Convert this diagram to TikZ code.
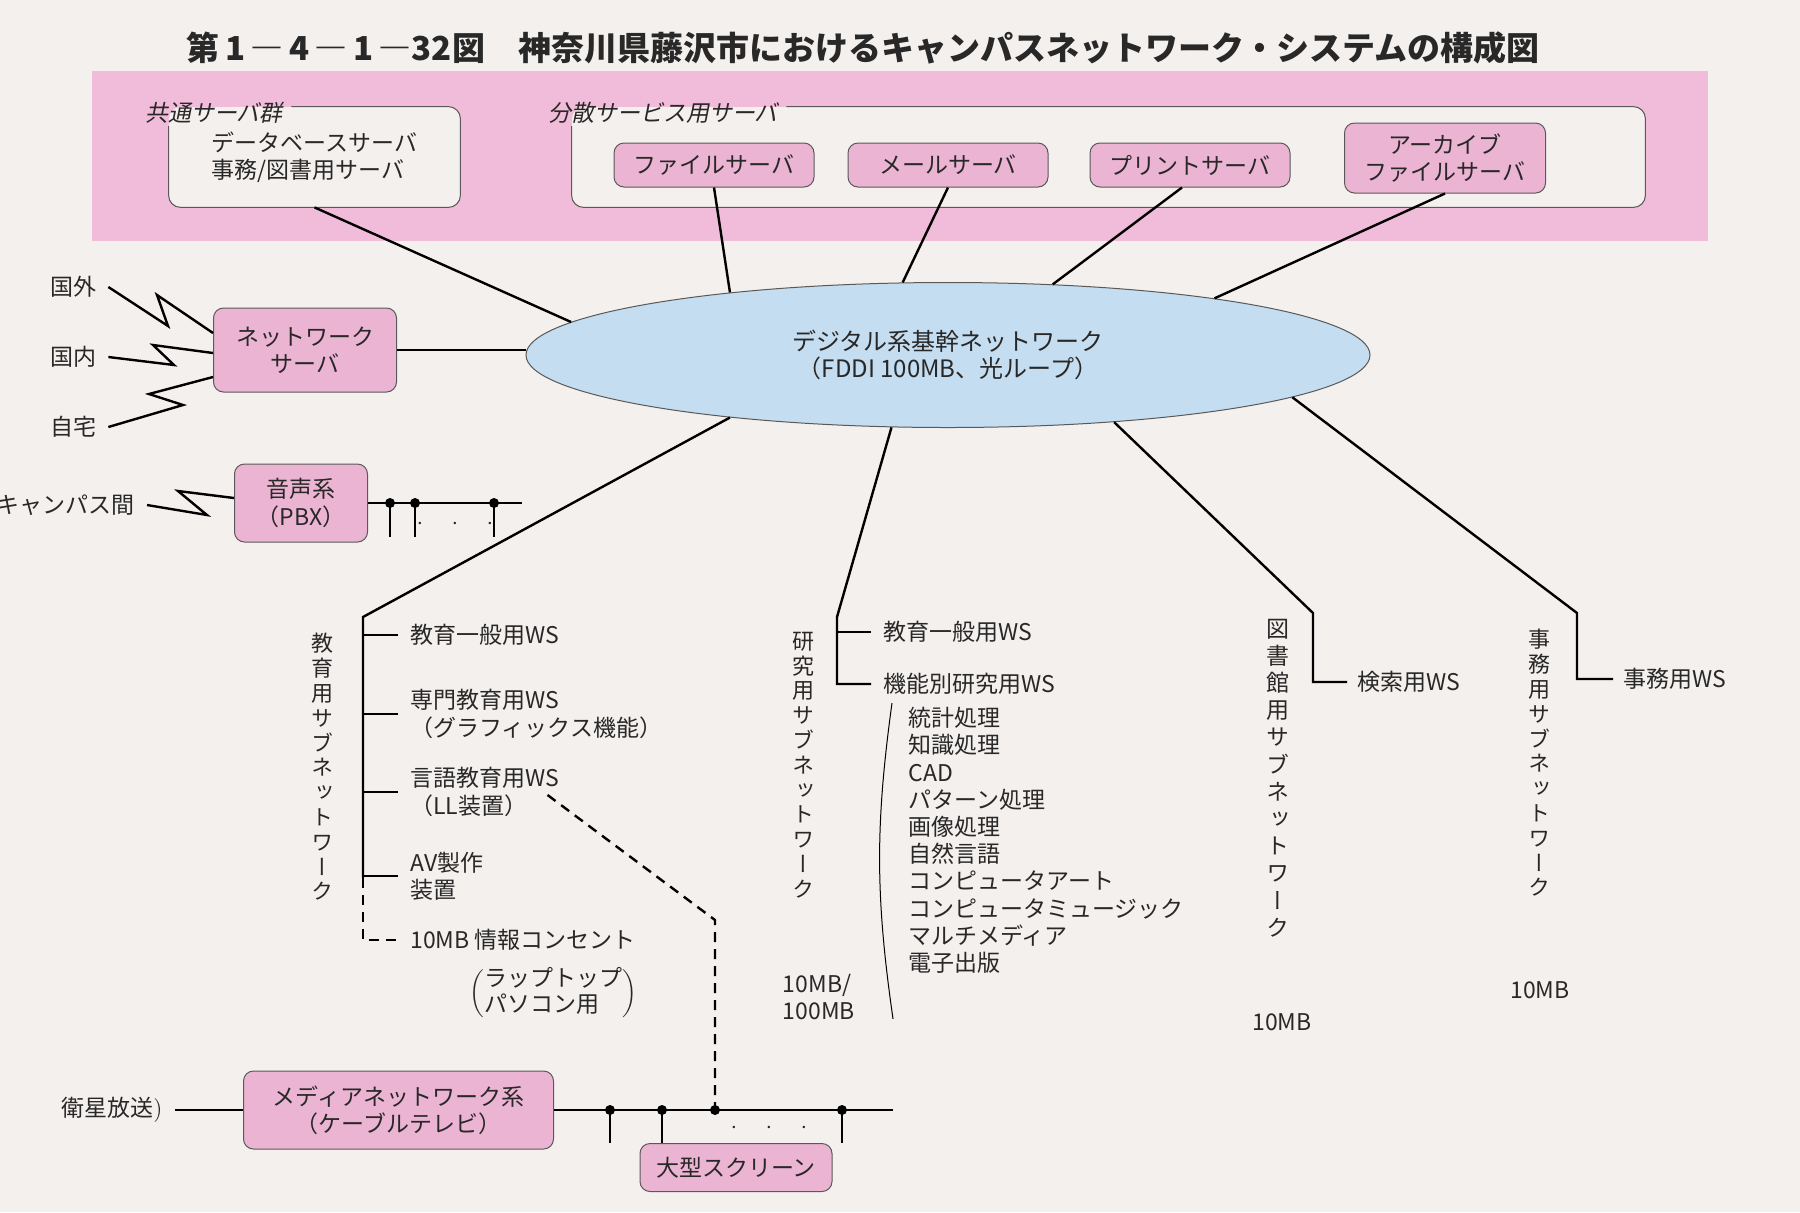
\documentclass[tikz,border=0pt]{standalone}
\usepackage{fontspec}
\setmainfont{Noto Sans CJK JP}
\newfontfamily\slfont[FakeSlant=0.2]{Noto Sans CJK JP}
\newfontfamily\vfont[RawFeature={+vert}]{Noto Sans CJK JP}
\usepackage{tikz}
\usetikzlibrary{positioning,calc,shapes.geometric}
\definecolor{paper}{RGB}{244,240,238}
\definecolor{bandpink}{RGB}{241,188,217}
\definecolor{boxpink}{RGB}{236,180,211}
\definecolor{ringblue}{RGB}{196,221,240}
\definecolor{ink}{RGB}{40,40,40}

\begin{document}
\begin{tikzpicture}[x=0.5pt,y=-0.5pt,
    every node/.style={font=\fontsize{11.5}{13.6}\selectfont,inner sep=0pt,text=ink},
    srv/.style={draw=black!65,fill=boxpink,rounded corners=5pt,align=center,line width=0.5pt},
    grp/.style={fill=paper,rounded corners=6pt},
    grpline/.style={draw=black!65,line width=0.5pt,rounded corners=6pt},
    grplab/.style={font=\slfont\fontsize{11.5}{13.6}\selectfont},
    lbl/.style={inner xsep=6pt},
    txt/.style={anchor=west,align=left},
    vlab/.style={font=\vfont\fontsize{11}{12.4}\selectfont,align=center},
    link/.style={line width=1.2pt,draw=black},
    dashlink/.style={line width=1.2pt,dash pattern=on 5pt off 3.5pt},
    dot/.style={circle,fill=black,minimum size=5pt}]
    \useasboundingbox (0,0) rectangle (1800,1212);
    \fill[paper] (0,0) rectangle (1800,1212);

    \node[font=\bfseries\fontsize{16.5}{20}\selectfont] (title) at (863,48)
      {第\,1\,―\,4\,―\,1\,―32図　神奈川県藤沢市におけるキャンパスネットワーク・システムの構成図};

    \fill[bandpink] (92,71) rectangle (1708,241);

    \node[grp,minimum width=145.5pt,minimum height=50pt,align=left] (common) at (314.5,157)
      {データベースサーバ\\事務/図書用サーバ};
    \node[grplab] (commonlab) at (214,113) {共通サーバ群};
    \draw[grpline] ([xshift=4pt]commonlab.east |- common.north) -- (common.north east)
      -- (common.south east) -- (common.south west) -- ([yshift=-1pt]commonlab.south -| common.west);

    \node[grp,minimum width=536.5pt,minimum height=50pt] (distrib) at (1108.5,157) {};
    \node[grplab] (distlab) at (663,113) {分散サービス用サーバ};
    \draw[grpline] ([xshift=4pt]distlab.east |- distrib.north) -- (distrib.north east)
      -- (distrib.south east) -- (distrib.south west) -- ([yshift=-1pt]distlab.south -| distrib.west);

    \node[srv,minimum width=100pt,minimum height=22pt] (file) at (714,165) {ファイルサーバ};
    \node[srv,minimum width=100pt,minimum height=22pt] (mail) at (948,165) {メールサーバ};
    \node[srv,minimum width=100pt,minimum height=22pt] (print) at (1190,165) {プリントサーバ};
    \node[srv,minimum width=100.5pt,minimum height=35pt] (archive) at (1445,158) {アーカイブ\\ファイルサーバ};

    \node[ellipse,draw=black!65,fill=ringblue,line width=0.5pt,minimum width=422pt,minimum height=72.5pt,
      align=center,font=\fontsize{12}{13.6}\selectfont] (backbone) at (948,355)
      {デジタル系基幹ネットワーク\\（FDDI 100MB、光ループ）};

    \draw[link] (common.south) -- (backbone.175);
    \draw[link] (file.south) -- (backbone.164);
    \draw[link] (mail.south) -- (backbone.122);
    \draw[link] ([xshift=-4pt]print.south) -- (backbone.34);
    \draw[link] (archive.south) -- (backbone.12);

    \node[srv,minimum width=91.5pt,minimum height=42pt] (nets) at (305,350) {ネットワーク\\サーバ};
    \draw[link] (nets.east) -- (nets.east -| backbone.west);
    \node[lbl] (abroad) at (73,287) {国外};
    \node[lbl] (domestic) at (73,357) {国内};
    \node[lbl] (home) at (73,427) {自宅};
    \draw[link] (abroad.east) -- (168,326) -- (157,295) -- ($(nets.west)+(0,-17)$);
    \draw[link] (domestic.east) -- (174,365) -- (153,345) -- ($(nets.west)+(0,3)$);
    \draw[link] (home.east) -- (183,405) -- (149,394) -- ($(nets.west)+(0,27)$);

    \node[srv,minimum width=66.5pt,minimum height=39pt] (pbx) at (301,503) {音声系\\（PBX）};
    \node[lbl,anchor=east] (inter) at (147,505) {キャンパス間};
    \draw[link] (inter.east) -- (207,515) -- (178,491) -- ($(pbx.west)+(0,-5)$);
    \coordinate (pbxend) at (522,503);
    \draw[link] (pbx.east) -- (pbxend);
    \node[dot] (p1) at (390,503) {};
    \node[dot] (p2) at (415,503) {};
    \node[dot] (p3) at (494,503) {};
    \foreach \d in {p1,p2,p3}
      \draw[link] (\d.center) -- ++(0,34);
    \node (pdots) at (455,524) {$\cdot\quad\cdot\quad\cdot$};

    \node[vlab] (eduv) at (322,767) {教\\育\\用\\サ\\ブ\\ネ\\ッ\\ト\\ワ\\ー\\ク};
    \node[txt] (e1) at (410,635) {教育一般用WS};
    \node[txt] (e2) at (410,714) {専門教育用WS\\（グラフィックス機能）};
    \node[txt] (e3) at (410,792) {言語教育用WS\\（LL装置）};
    \node[txt] (e4) at (410,876) {AV製作\\装置};
    \node[txt] (e5) at (410,940) {10MB 情報コンセント};
    \node (e6) at (553,994) {\renewcommand\arraystretch{0.9}$\left(\begin{tabular}{@{}l@{}}ラップトップ\\パソコン用\end{tabular}\right)$};
    \coordinate (educ) at (363,617);
    \coordinate (eduend) at (363,878);
    \draw[link] (backbone.196) -- (educ) -- (eduend);
    \draw[dashlink] (eduend) -- (eduend |- e5) -- ([xshift=-6pt]e5.west);
    \foreach \t in {e1,e2,e3,e4}
      \draw[link] (educ |- \t.west) -- ([xshift=-6pt]\t.west);

    \node[vlab] (resv) at (803,765) {研\\究\\用\\サ\\ブ\\ネ\\ッ\\ト\\ワ\\ー\\ク};
    \node[txt] (r1) at (883,632) {教育一般用WS};
    \node[txt] (r2) at (883,684) {機能別研究用WS};
    \node[anchor=north west,align=left] (rlist) at (908,707)
      {統計処理\\知識処理\\CAD\\パターン処理\\画像処理\\自然言語\\コンピュータアート\\コンピュータミュージック\\マルチメディア\\電子出版};
    \draw[line width=0.5pt] ($(rlist.north west)+(-16,-4)$) to[bend right=8] ($(rlist.south west)+(-15,45)$);
    \node[align=left] (resmb) at (819,997) {10MB/\\100MB};
    \coordinate (resc) at (837,617);
    \draw[link] (backbone.232) -- (resc) -- (resc |- r2.west) -- ([xshift=-6pt]r2.west);
    \draw[link] (resc |- r1.west) -- ([xshift=-6pt]r1.west);

    \node[vlab,font=\vfont\fontsize{11.5}{13.6}\selectfont] (libv) at (1278,778) {図\\書\\館\\用\\サ\\ブ\\ネ\\ッ\\ト\\ワ\\ー\\ク};
    \node[txt] (l1) at (1357,682) {検索用WS};
    \node (libmb) at (1282,1022) {10MB};
    \coordinate (libc) at (1313,613);
    \draw[link] (backbone.338) -- (libc) -- (libc |- l1.west) -- ([xshift=-5pt]l1.west);

    \node[vlab] (offv) at (1539,763) {事\\務\\用\\サ\\ブ\\ネ\\ッ\\ト\\ワ\\ー\\ク};
    \node[txt] (o1) at (1623,679) {事務用WS};
    \node (offmb) at (1540,990) {10MB};
    \coordinate (offc) at (1577,613);
    \draw[link] (backbone.353) -- (offc) -- (offc |- o1.west) -- ([xshift=-5pt]o1.west);

    \node[lbl] (sat) at (112,1110) {衛星放送$\big)$};
    \node[srv,minimum width=155pt,minimum height=39pt] (media) at (398.5,1110) {メディアネットワーク系\\（ケーブルテレビ）};
    \draw[link] (sat.east) -- (media.west);
    \coordinate (mediaend) at (893,1110);
    \draw[link] (media.east) -- (mediaend);
    \node[dot] (m1) at (610,1110) {};
    \node[dot] (m2) at (662,1110) {};
    \node[dot] (m3) at (715,1110) {};
    \node[dot] (m4) at (842,1110) {};
    \node[srv,minimum width=96pt,minimum height=24pt] (screen) at (736,1167.5) {大型スクリーン};
    \draw[link] (m1.center) -- ++(0,33);
    \draw[link] (m4.center) -- ++(0,33);
    \draw[link] (m2.center) -- (m2 |- screen.north);
    \node (mdots) at (769,1128) {$\cdot\quad\cdot\quad\cdot$};
    \coordinate (llbend) at (715,920);
    \draw[dashlink] ($(e3.east)+(-12,3)$) -- (llbend) -- (m3.center);
\end{tikzpicture}
\end{document}
